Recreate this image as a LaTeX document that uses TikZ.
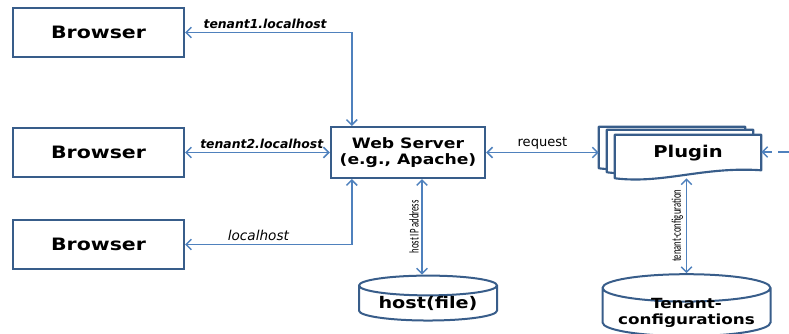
\documentclass[tikz,border=0pt]{standalone}
\usepackage{fontspec}
\setmainfont{DejaVu Sans}
\newfontfamily\boxfont[FakeStretch=1.2]{DejaVu Sans}
\newfontfamily\narrowfont[FakeStretch=0.65]{Carlito}
\usetikzlibrary{positioning, calc}
\usetikzlibrary{arrows.meta, shapes.geometric}
\definecolor{boxblue}{RGB}{56,93,138}
\definecolor{linkblue}{RGB}{79,129,189}
\tikzstyle{mainbox}=[rectangle,draw=boxblue,line width=1.8pt,fill=white,
inner sep=0pt,font=\boxfont\bfseries\fontsize{10.75}{11.5}\selectfont]
\tikzstyle{browserbox}=[mainbox,minimum width=128pt,minimum height=37pt,
font=\boxfont\bfseries\fontsize{12.8}{14}\selectfont]
\tikzstyle{storebox}=[cylinder,shape border rotate=90,aspect=0.2,
draw=boxblue,line width=1.5pt,fill=white,inner sep=0pt,
font=\boxfont\bfseries\fontsize{12}{13}\selectfont]
\tikzstyle{docbox}=[rectangle,draw=none,inner sep=0pt,minimum width=109.5pt]
\tikzstyle{link}=[{Straight Barb[length=4pt,width=8pt]}-{Straight Barb[length=4pt,width=8pt]},
draw=linkblue,line width=1.1pt]
\tikzstyle{hostlabel}=[inner sep=2pt,font=\bfseries\itshape\fontsize{9.3}{10}\selectfont]
\tikzstyle{linklabel}=[inner sep=2pt,font=\fontsize{9.8}{10}\selectfont]
\tikzstyle{sidelabel}=[inner sep=2pt,font=\narrowfont\fontsize{10}{11}\selectfont]

% one sheet of the plugin stack, wavy bottom edge
\newcommand{\docsheet}[1]{%
  \filldraw[draw=boxblue,fill=white,line width=1.6pt,line join=round]
    (#1.north west) -- (#1.north east) -- ($(#1.south east)+(0,-8)$)
    .. controls ($(#1.south)+(15,-12)$) and ($(#1.south)+(-25,6)$)
    .. (#1.south west) -- cycle;}

\begin{document}
\begin{tikzpicture}[x=0.75pt,y=-0.75pt]
    \useasboundingbox (0,0) rectangle (789,333);

    \node[browserbox] (browser1) at (98.5,32.5) {Browser};
    \node[browserbox] (browser2) at (98.5,152.5) {Browser};
    \node[browserbox] (browser3) at (98.5,244.5) {Browser};
    \node[mainbox, minimum width=115.5pt, minimum height=38pt, align=center]
        (web) at (408,152.5) {Web Server\\(e.g., Apache)};

    % plugin stack
    \node[docbox, minimum height=30.75pt] (plugin3) at (672,147.5) {};
    \node[docbox, minimum height=31.5pt] (plugin2) at (680,151) {};
    \node[docbox, minimum height=32.25pt] (plugin) at (688,156.5) {};
    \docsheet{plugin3}
    \docsheet{plugin2}
    \docsheet{plugin}
    \node[font=\boxfont\bfseries\fontsize{12.2}{13}\selectfont] (plugintext) at (688,153) {Plugin};

    \node[storebox, minimum width=103.5pt, minimum height=30.5pt]
        (hostfile) at (428,303.5) {host(file)};
    \node[storebox, minimum width=126pt, minimum height=34.5pt, align=center,
        inner ysep=-3.5pt, font=\boxfont\bfseries\fontsize{10.5}{12}\selectfont]
        (tenantconf) at (686.5,312.5) {Tenant-\\configurations};

    \coordinate (webtop) at ($(web.north west)+(22,0)$);
    \coordinate (webbottom) at ($(web.south west)+(22,0)$);
    \coordinate (webip) at ($(web.south)+(14,0)$);
    \coordinate (extin) at (789,152);

    \draw[link] (browser1.east) -| node[hostlabel, above, pos=0.24]
        {tenant1.localhost} (webtop);
    \draw[link] (browser2.east) -- node[hostlabel, above, pos=0.53]
        {tenant2.localhost} (web.west);
    \draw[link] (browser3.east) -| node[hostlabel, above, pos=0.22,
        font=\itshape\fontsize{10.2}{11}\selectfont] {localhost} (webbottom);
    \draw[link] (web.east) -- node[linklabel, above] {request} (web.east -| plugin3.west);
    \draw[link] (webip |- hostfile.north) -- node[sidelabel, sloped, above]
        {host IP address} (webip);
    \draw[link] (tenantconf.north) -- node[sidelabel, sloped, above]
        {tenant-configuration} (tenantconf.north |- plugin.south);
    \draw[link, -{Straight Barb[length=4pt,width=8pt]}, dash pattern=on 8pt off 5pt]
        (extin) -- (extin -| plugin.east);
\end{tikzpicture}
\end{document}
